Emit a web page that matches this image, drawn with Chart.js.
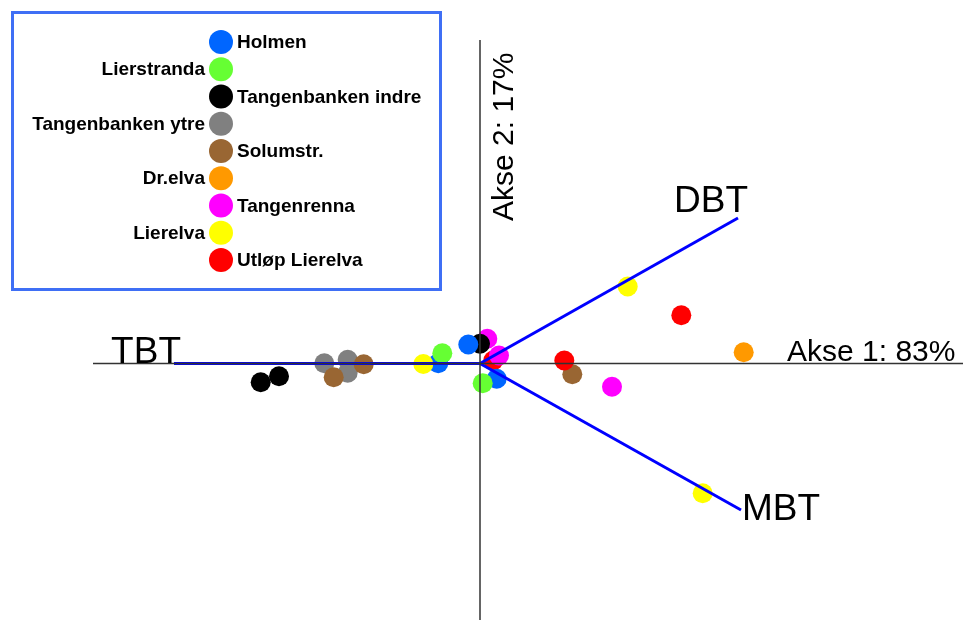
<!DOCTYPE html>
<html><head><meta charset="utf-8">
<script src="https://cdn.jsdelivr.net/npm/chart.js@4.4.1/dist/chart.umd.min.js"></script>
<style>html,body{margin:0;background:#fff}canvas{display:block}</style>
</head><body>
<canvas id="c" width="963" height="620"></canvas>
<script>
// sites in legend order
const sites=['Holmen','Lierstranda','Tangenbanken indre','Tangenbanken ytre','Solumstr.','Dr.elva','Tangenrenna','Lierelva','Utløp Lierelva'];
const siteColors=['#0066ff','#66ff33','#000000','#808080','#996633','#ff9900','#ff00ff','#ffff00','#ff0000'];
// stacking: lower = on top
const siteOrder=[3,1,4,8,7,9,5,2,6];

// PCA scores (axis 1, axis 2)
const holmen=[{x:-41.7,y:0.3},{x:-11.7,y:19},{x:16.7,y:-15.3}];
const lierstranda=[{x:-37.7,y:10.3},{x:2.7,y:-19.7}];
const tangenIndre=[{x:-219.3,y:-18.7},{x:-201,y:-12.7},{x:0,y:19.7}];
const tangenYtre=[{x:-155.7,y:0.3},{x:-132.3,y:3.7},{x:-132.3,y:-9.3}];
const solumstr=[{x:-146.3,y:-13.7},{x:-116.3,y:-0.7},{x:92.3,y:-10.7}];
const drelva=[{x:263.7,y:11.3}];
const tangenrenna=[{x:7.3,y:24.7},{x:19,y:8},{x:132,y:-23.3}];
const lierelva=[{x:-56.7,y:-0.5},{x:147.7,y:77},{x:222.7,y:-129.7}];
const utlopLierelva=[{x:13.3,y:3},{x:84.3,y:3},{x:201.3,y:48.3}];
const siteScores=[holmen,lierstranda,tangenIndre,tangenYtre,solumstr,drelva,tangenrenna,lierelva,utlopLierelva];

// loadings of the variables
const vectorNames=['TBT','DBT','MBT'];
const vectorEnds=[{x:-306,y:0},{x:258,y:145.5},{x:261,y:-146.5}];

// axes
const axis1=[{x:-387,y:0},{x:483,y:0}];
const axis2=[{x:0,y:323.5},{x:0,y:-256.5}];
const axisLabels=['Akse 1: 83%','Akse 2: 17%'];

const datasets=[];
datasets.push({type:'line',data:axis1,borderColor:'#333',borderWidth:1.5,pointRadius:0,order:-2});
datasets.push({type:'line',data:axis2,borderColor:'#333',borderWidth:1.5,pointRadius:0,order:-2});
vectorEnds.forEach(e=>datasets.push({type:'line',data:[{x:0,y:0},e],borderColor:'#0000ff',borderWidth:3,pointRadius:0,order:-1}));
sites.forEach((s,i)=>datasets.push({type:'scatter',label:s,data:siteScores[i],backgroundColor:siteColors[i],borderWidth:0,pointRadius:10,pointHoverRadius:10,order:siteOrder[i]}));

const FONT='"Liberation Sans", Arial, sans-serif';
const textPlugin={id:'biplotText',
  afterDatasetsDraw(chart){
    const ctx=chart.ctx, xs=chart.scales.x, ys=chart.scales.y;
    ctx.save();
    ctx.fillStyle='#000';
    ctx.font='37px '+FONT; ctx.textBaseline='alphabetic';
    // vector labels
    let p=vectorEnds.map(e=>({x:xs.getPixelForValue(e.x),y:ys.getPixelForValue(e.y)}));
    ctx.textAlign='right'; ctx.fillText(vectorNames[0],p[0].x+7,p[0].y-1);
    ctx.textAlign='center'; ctx.fillText(vectorNames[1],p[1].x-27,p[1].y-6);
    ctx.textAlign='left'; ctx.fillText(vectorNames[2],p[2].x+1,p[2].y+10);
    // axis labels
    ctx.font='30px '+FONT;
    ctx.textAlign='left'; ctx.fillText(axisLabels[0],787,361);
    ctx.save(); ctx.translate(513,221); ctx.rotate(-Math.PI/2);
    ctx.fillText(axisLabels[1],0,0); ctx.restore();
    // legend
    ctx.lineWidth=3; ctx.strokeStyle='#3f6ff5';
    ctx.strokeRect(12.5,12.5,428,277);
    ctx.font='bold 19px '+FONT; ctx.textBaseline='middle';
    sites.forEach((s,i)=>{
      const cy=42+i*27.25;
      ctx.beginPath(); ctx.arc(221,cy,12,0,Math.PI*2); ctx.fillStyle=siteColors[i]; ctx.fill();
      ctx.fillStyle='#000';
      if(i%2===0){ctx.textAlign='left';ctx.fillText(s,237,cy+1);}
      else{ctx.textAlign='right';ctx.fillText(s,205,cy+1);}
    });
    ctx.restore();
  }};

new Chart(document.getElementById('c'),{
  data:{datasets},
  options:{responsive:false,animation:false,
    layout:{padding:0,autoPadding:false},
    plugins:{legend:{display:false},tooltip:{enabled:false}},
    scales:{x:{type:'linear',min:-480,max:483,display:false},y:{type:'linear',min:-256.5,max:363.5,display:false}}},
  plugins:[textPlugin]
});
</script>
</body></html>
